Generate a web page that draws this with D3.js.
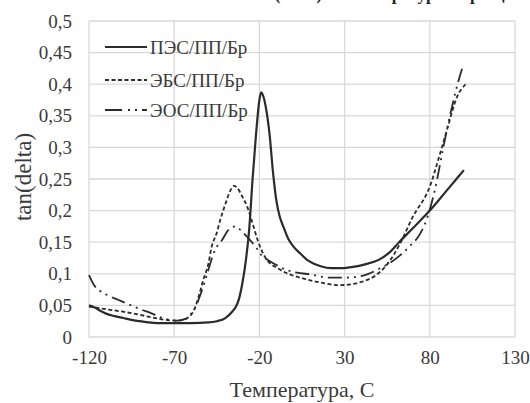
<!DOCTYPE html>
<html><head><meta charset="utf-8">
<script src="https://cdn.jsdelivr.net/npm/d3@7"></script>
<style>body{margin:0;background:#fff}svg{display:block}</style>
</head><body>
<script>
const xTicks = [-120, -70, -20, 30, 80, 130];
const yTicks = [0, 0.05, 0.1, 0.15, 0.2, 0.25, 0.3, 0.35, 0.4, 0.45, 0.5];
const seriesNames = ["ПЭС/ПП/Бр", "ЭБС/ПП/Бр", "ЭОС/ПП/Бр"];

const pesT = [-120,-117,-113,-110,-105,-100,-95,-90,-85,-80,-70,-60,-50,-45,-40,-36,-34,-32,-30,-28,-26,-24,-22,-20,-19,-18,-16,-14,-12,-10,-8,-6,-3,0,4,8,12,16,22,28,35,42,50,56,62,70,80,90,100];
const pesV = [0.05,0.047,0.041,0.037,0.033,0.030,0.027,0.025,0.023,0.022,0.022,0.022,0.023,0.025,0.030,0.040,0.047,0.060,0.085,0.12,0.17,0.25,0.32,0.375,0.387,0.383,0.36,0.32,0.26,0.215,0.19,0.175,0.155,0.143,0.132,0.122,0.116,0.112,0.109,0.109,0.111,0.115,0.122,0.133,0.150,0.172,0.200,0.232,0.264];

const ebsT = [-120,-115,-110,-100,-90,-83,-75,-68,-63,-58,-55,-53,-50,-48,-45,-43,-40,-37,-35,-33,-30,-27,-24,-21,-18,-15,-10,-4,0,8,16,27,35,42,48,55,62,70,80,86,90,96,101];
const ebsV = [0.048,0.046,0.044,0.040,0.035,0.031,0.027,0.026,0.029,0.045,0.070,0.090,0.115,0.143,0.165,0.185,0.210,0.232,0.239,0.236,0.222,0.205,0.180,0.153,0.133,0.120,0.110,0.101,0.097,0.091,0.086,0.082,0.084,0.089,0.097,0.115,0.145,0.190,0.238,0.290,0.327,0.380,0.400];

const eosT = [-120,-117,-114,-109,-103,-97,-90,-83,-78,-74,-68,-63,-60,-57,-55,-52,-50,-46,-42,-38,-34,-30,-26,-22,-19,-15,-10,-4,2,10,21,30,37,44,51,57,62,68,74,78,83,88,93,97,99];
const eosV = [0.098,0.082,0.074,0.066,0.059,0.052,0.044,0.037,0.031,0.028,0.026,0.029,0.037,0.050,0.064,0.088,0.106,0.138,0.153,0.170,0.175,0.166,0.155,0.142,0.130,0.122,0.114,0.106,0.102,0.099,0.094,0.094,0.095,0.100,0.109,0.118,0.128,0.143,0.162,0.185,0.233,0.301,0.364,0.407,0.425];

const W = 530, H = 403;
const plot = {left: 89, right: 515, top: 21, bottom: 337};
const SERIF = '"Liberation Serif"';
const TXT = "#3a3a3a";

const svg = d3.select("body").append("svg").attr("width", W).attr("height", H);

const x = d3.scaleLinear().domain([-120, 130]).range([plot.left, plot.right]);
const y = d3.scaleLinear().domain([0, 0.5]).range([plot.bottom, plot.top]);

// title (cut off at the top edge in the reference)
svg.append("text").attr("x", 335).attr("y", 0).attr("text-anchor", "middle")
  .attr("font-size", 17).attr("font-weight", "bold").attr("fill", "#222")
  .style("font-family", SERIF)
  .text("Зависимость tan(delta) от температуры образцов");

// grid
const grid = svg.append("g");
grid.selectAll("line.h").data(yTicks).join("line")
  .attr("x1", plot.left).attr("x2", plot.right)
  .attr("y1", d => y(d)).attr("y2", d => y(d))
  .attr("stroke", "#d9d9d9").attr("stroke-width", 1.3);
grid.selectAll("line.v").data(xTicks).join("line")
  .attr("y1", plot.top).attr("y2", plot.bottom)
  .attr("x1", d => x(d)).attr("x2", d => x(d))
  .attr("stroke", "#d9d9d9").attr("stroke-width", 1.3);

// axes
const fmt = d => d === 0 ? "0" : String(+d.toFixed(2)).replace(".", ",");
const yAxis = svg.append("g").attr("transform", `translate(${plot.left},0)`)
  .call(d3.axisLeft(y).tickValues(yTicks).tickFormat(fmt).tickSize(0).tickPadding(17));
yAxis.select(".domain").remove();
yAxis.selectAll("text").attr("font-size", 19).attr("fill", TXT).style("font-family", SERIF);

const xAxis = svg.append("g").attr("transform", `translate(0,${plot.bottom})`)
  .call(d3.axisBottom(x).tickValues(xTicks).tickFormat(d => String(d)).tickSize(0).tickPadding(14));
xAxis.select(".domain").remove();
xAxis.selectAll("text").attr("font-size", 19).attr("fill", TXT).style("font-family", SERIF);

// axis titles
svg.append("text").attr("x", 302).attr("y", 397).attr("text-anchor", "middle")
  .attr("font-size", 22).attr("fill", TXT).style("font-family", SERIF).text("Температура, С");
svg.append("text").attr("transform", "translate(31,177) rotate(-90)")
  .attr("text-anchor", "middle").attr("font-size", 23).attr("fill", TXT)
  .style("font-family", SERIF).text("tan(delta)");

// lines
const line = d3.line().x(d => x(d[0])).y(d => y(d[1])).curve(d3.curveMonotoneX);
const styles = [
  {dash: null, w: 2.2},
  {dash: "4,2.5", w: 1.8},
  {dash: "14,5,2,5,2,5", w: 1.8}
];
const data = [d3.zip(pesT, pesV), d3.zip(ebsT, ebsV), d3.zip(eosT, eosV)];
data.forEach((d, i) => {
  svg.append("path").datum(d).attr("d", line).attr("fill", "none")
    .attr("stroke", "#2b2b2b").attr("stroke-width", styles[i].w)
    .attr("stroke-dasharray", styles[i].dash);
});

// legend
const legY = [47, 80, 110];
seriesNames.forEach((n, i) => {
  svg.append("line").attr("x1", 105).attr("x2", 147).attr("y1", legY[i]).attr("y2", legY[i])
    .attr("stroke", "#2b2b2b").attr("stroke-width", styles[i].w)
    .attr("stroke-dasharray", i === 2 ? "17,6,2,5,2,5" : styles[i].dash);
  svg.append("text").attr("x", 150).attr("y", legY[i] + 7).attr("font-size", 19)
    .attr("fill", TXT).style("font-family", SERIF).text(n);
});
</script>
</body></html>
